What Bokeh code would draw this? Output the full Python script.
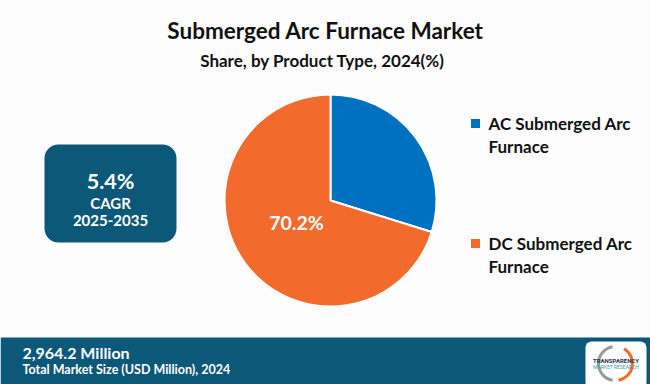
from bokeh.plotting import figure
from bokeh.models import Range1d, BoxAnnotation
from bokeh.core.properties import value
from bokeh.embed import file_html
from bokeh.resources import INLINE

# ---- data ----
title = "Submerged Arc Furnace Market"
subtitle = "Share, by Product Type, 2024(%)"
categories = ["AC Submerged Arc Furnace", "DC Submerged Arc Furnace"]
shares = [29.8, 70.2]
colors = ["#0070C0", "#F26A2C"]
shown_labels = [False, True]
cagr_value = "5.4%"
cagr_label = "CAGR"
cagr_period = "2025-2035"
market_size = "2,964.2 Million"
market_caption = "Total Market Size (USD Million), 2024"

W, H = 650, 384
DARK = "#0B5878"
FONT = value("Lato")


def Y(v):
    return H - v


p = figure(width=650, height=384, x_range=Range1d(0, W), y_range=Range1d(0, H),
           output_backend="svg", toolbar_location=None, min_border=0)
p.axis.visible = False
p.grid.visible = False
p.outline_line_color = None
p.background_fill_color = "#FDFDFD"
p.border_fill_color = "#FDFDFD"

# boxes (underlay so texts sit above)
p.add_layout(BoxAnnotation(left=44, right=176, top=Y(144), bottom=Y(242), level="underlay",
                           fill_color=DARK, fill_alpha=1, line_color=None, border_radius=14))
p.add_layout(BoxAnnotation(left=0, right=W, top=Y(337), bottom=0, level="underlay",
                           fill_color=DARK, fill_alpha=1, line_color=None))
p.add_layout(BoxAnnotation(left=585, right=646, top=Y(341), bottom=Y(388), level="underlay",
                           fill_color="white", fill_alpha=1, line_color=None, border_radius=6))

# titles
p.text(x=[325], y=[Y(30)], text=[title], text_font=FONT, text_font_style="bold",
       text_font_size="22.5px", text_align="center", text_baseline="middle", text_color="#111111")
p.text(x=[322], y=[Y(60)], text=[subtitle], text_font=FONT, text_font_style="bold",
       text_font_size="17px", text_align="center", text_baseline="middle", text_color="#111111")

# pie
starts, ends = [], []
a = 90.0
for s in shares:
    starts.append(a)
    a = a - 360.0 * s / 100.0
    ends.append(a)
p.wedge(x=330, y=Y(200), radius=106, start_angle=starts, end_angle=ends,
        start_angle_units="deg", end_angle_units="deg", direction="clock",
        fill_color=colors, line_color="white", line_width=2)
p.text(x=[296], y=[Y(222)], text=[f"{shares[i]}%" for i in range(len(shares)) if shown_labels[i]],
       text_font=FONT, text_font_style="bold", text_font_size="19.5px",
       text_align="center", text_baseline="middle", text_color="white")

# legend
leg_y = [123, 243]
for cat, col, ly in zip(categories, colors, leg_y):
    first, second = cat.rsplit(" ", 1)
    p.rect(x=[475], y=[Y(ly)], width=9, height=9, fill_color=col, line_color=None)
    p.text(x=[488, 488], y=[Y(ly), Y(ly + 23)], text=[first, second], text_font=FONT,
           text_font_style="bold", text_font_size="17px", text_align="left",
           text_baseline="middle", text_color="#111111")

# CAGR box texts
p.text(x=[110], y=[Y(180)], text=[cagr_value], text_font=FONT, text_font_style="bold",
       text_font_size="21.5px", text_align="center", text_baseline="middle", text_color="white")
p.text(x=[110, 110], y=[Y(202), Y(220)], text=[cagr_label, cagr_period], text_font=FONT,
       text_font_style="bold", text_font_size="15px", text_align="center",
       text_baseline="middle", text_color="white")

# bottom bar texts
p.text(x=[22], y=[Y(352)], text=[market_size], text_font=FONT, text_font_style="bold",
       text_font_size="16px", text_align="left", text_baseline="middle", text_color="white")
p.text(x=[22], y=[Y(369)], text=[market_caption], text_font=FONT, text_font_style="bold",
       text_font_size="12.5px", text_align="left", text_baseline="middle", text_color="white")

# logo
p.arc(x=[615], y=[Y(363)], radius=17, start_angle=100, end_angle=260, start_angle_units="deg",
      end_angle_units="deg", line_color="#9A9A9A", line_width=3)
p.arc(x=[615], y=[Y(363)], radius=17, start_angle=-80, end_angle=60, start_angle_units="deg",
      end_angle_units="deg", line_color="#F26A2C", line_width=3)
p.text(x=[615.5], y=[Y(360)], text=["TRANSPARENCY"], text_font=value("Roboto"), text_font_style="bold",
       text_font_size="6px", text_align="center", text_baseline="middle", text_color="#1F2F4A")
p.text(x=[615.5], y=[Y(366)], text=["MARKET RESEARCH"], text_font=value("Roboto"),
       text_font_size="5px", text_align="center", text_baseline="middle", text_color="#3AA0A8")

open("out.html", "w").write(file_html(p, INLINE))
